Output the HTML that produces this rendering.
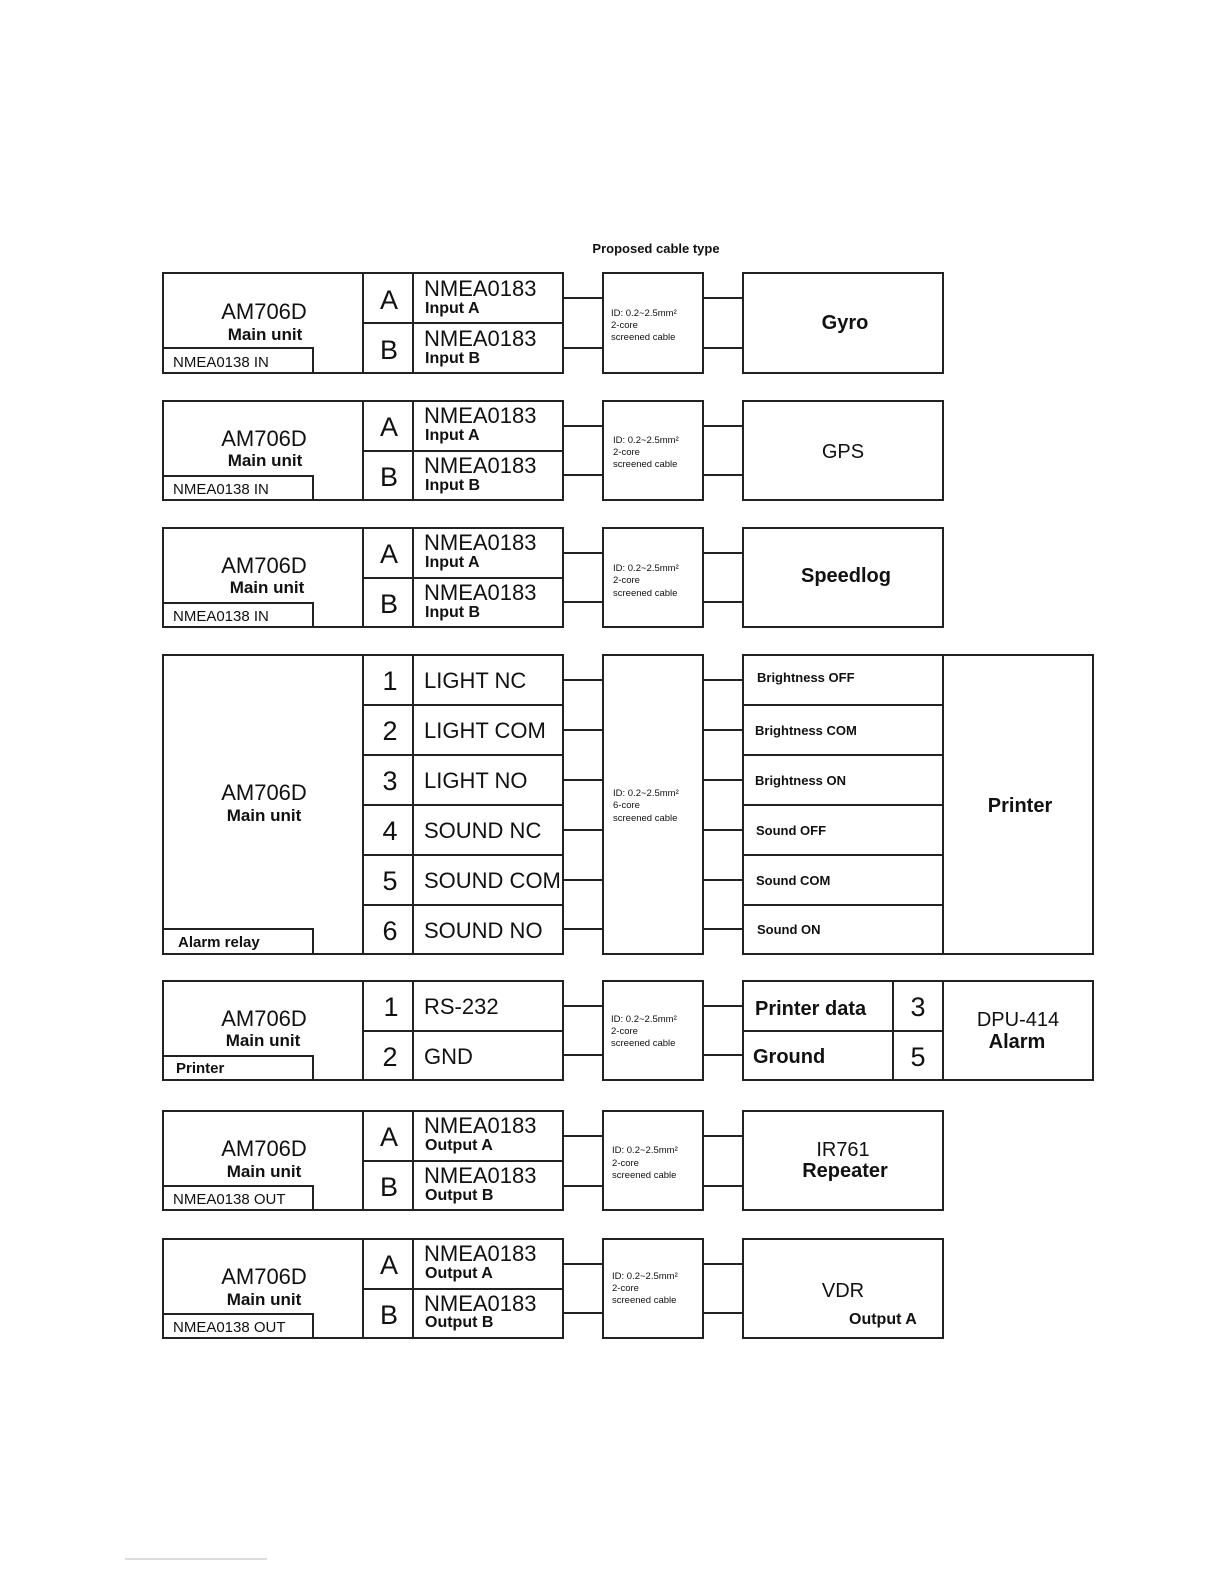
<!DOCTYPE html>
<html><head><meta charset="utf-8"><style>
html,body{margin:0;padding:0;background:#fff;}
svg{display:block;}
text{font-family:"Liberation Sans",sans-serif;fill:#111;}
.r{fill:none;stroke:#222;stroke-width:2;}
.l{stroke:#222;stroke-width:2;}
.am{font-size:22px;text-anchor:middle;}
.mu{font-size:17px;font-weight:bold;text-anchor:middle;}
.sub{font-size:15px;}
.let{font-size:27px;text-anchor:middle;}
.nm{font-size:22px;}
.io{font-size:16px;font-weight:bold;}
.cb{font-size:9.5px;}
.dev{font-size:20px;text-anchor:middle;}
.sm{font-size:13px;font-weight:bold;}
</style></head><body>
<svg width="1224" height="1584" viewBox="0 0 1224 1584" xmlns="http://www.w3.org/2000/svg">
<text x="656" y="253" style="font-size:13px;font-weight:bold;text-anchor:middle">Proposed cable type</text>

<!-- Block 1: Gyro y0=273 -->
<g transform="translate(0,273)">
<rect class="r" x="163" y="0" width="200" height="100"/><rect class="r" x="163" y="75" width="150" height="25"/>
<rect class="r" x="363" y="0" width="50" height="50"/><rect class="r" x="363" y="50" width="50" height="50"/>
<rect class="r" x="413" y="0" width="150" height="50"/><rect class="r" x="413" y="50" width="150" height="50"/>
<line class="l" x1="563" y1="25" x2="603" y2="25"/><line class="l" x1="563" y1="75" x2="603" y2="75"/>
<rect class="r" x="603" y="0" width="100" height="100"/>
<line class="l" x1="703" y1="25" x2="743" y2="25"/><line class="l" x1="703" y1="75" x2="743" y2="75"/>
<rect class="r" x="743" y="0" width="200" height="100"/>
<text class="am" x="264" y="46">AM706D</text><text class="mu" x="265" y="67">Main unit</text>
<text class="sub" x="173" y="94">NMEA0138 IN</text>
<text class="let" x="389" y="36">A</text><text class="let" x="389" y="86">B</text>
<text class="nm" x="424" y="23">NMEA0183</text><text class="io" x="425" y="40">Input A</text>
<text class="nm" x="424" y="73">NMEA0183</text><text class="io" x="425" y="90">Input B</text>
<text class="cb" x="611" y="43">ID: 0.2~2.5mm²</text><text class="cb" x="611" y="55">2-core</text><text class="cb" x="611" y="67">screened cable</text>
<text class="dev" x="845" y="56" style="font-weight:bold">Gyro</text>
</g>

<!-- Block 2: GPS y0=401 -->
<g transform="translate(0,401)">
<rect class="r" x="163" y="0" width="200" height="99"/><rect class="r" x="163" y="75" width="150" height="24"/>
<rect class="r" x="363" y="0" width="50" height="50"/><rect class="r" x="363" y="50" width="50" height="49"/>
<rect class="r" x="413" y="0" width="150" height="50"/><rect class="r" x="413" y="50" width="150" height="49"/>
<line class="l" x1="563" y1="25" x2="603" y2="25"/><line class="l" x1="563" y1="74" x2="603" y2="74"/>
<rect class="r" x="603" y="0" width="100" height="99"/>
<line class="l" x1="703" y1="25" x2="743" y2="25"/><line class="l" x1="703" y1="74" x2="743" y2="74"/>
<rect class="r" x="743" y="0" width="200" height="99"/>
<text class="am" x="264" y="45">AM706D</text><text class="mu" x="265" y="65">Main unit</text>
<text class="sub" x="173" y="93">NMEA0138 IN</text>
<text class="let" x="389" y="35">A</text><text class="let" x="389" y="85">B</text>
<text class="nm" x="424" y="22">NMEA0183</text><text class="io" x="425" y="39">Input A</text>
<text class="nm" x="424" y="72">NMEA0183</text><text class="io" x="425" y="89">Input B</text>
<text class="cb" x="613" y="42">ID: 0.2~2.5mm²</text><text class="cb" x="613" y="54">2-core</text><text class="cb" x="613" y="66">screened cable</text>
<text class="dev" x="843" y="57">GPS</text>
</g>

<!-- Block 3: Speedlog y0=528 -->
<g transform="translate(0,528)">
<rect class="r" x="163" y="0" width="200" height="99"/><rect class="r" x="163" y="75" width="150" height="24"/>
<rect class="r" x="363" y="0" width="50" height="50"/><rect class="r" x="363" y="50" width="50" height="49"/>
<rect class="r" x="413" y="0" width="150" height="50"/><rect class="r" x="413" y="50" width="150" height="49"/>
<line class="l" x1="563" y1="25" x2="603" y2="25"/><line class="l" x1="563" y1="74" x2="603" y2="74"/>
<rect class="r" x="603" y="0" width="100" height="99"/>
<line class="l" x1="703" y1="25" x2="743" y2="25"/><line class="l" x1="703" y1="74" x2="743" y2="74"/>
<rect class="r" x="743" y="0" width="200" height="99"/>
<text class="am" x="264" y="45">AM706D</text><text class="mu" x="267" y="65">Main unit</text>
<text class="sub" x="173" y="93">NMEA0138 IN</text>
<text class="let" x="389" y="35">A</text><text class="let" x="389" y="85">B</text>
<text class="nm" x="424" y="22">NMEA0183</text><text class="io" x="425" y="39">Input A</text>
<text class="nm" x="424" y="72">NMEA0183</text><text class="io" x="425" y="89">Input B</text>
<text class="cb" x="613" y="43">ID: 0.2~2.5mm²</text><text class="cb" x="613" y="55">2-core</text><text class="cb" x="613" y="68">screened cable</text>
<text class="dev" x="846" y="54" style="font-weight:bold">Speedlog</text>
</g>

<!-- Block 4: Printer alarm relay y0=655 -->
<g transform="translate(0,655)">
<rect class="r" x="163" y="0" width="200" height="299"/><rect class="r" x="163" y="274" width="150" height="25"/>
<rect class="r" x="363" y="0" width="50" height="299"/><rect class="r" x="413" y="0" width="150" height="299"/>
<line class="l" x1="363" y1="50" x2="563" y2="50"/><line class="l" x1="363" y1="100" x2="563" y2="100"/>
<line class="l" x1="363" y1="150" x2="563" y2="150"/><line class="l" x1="363" y1="200" x2="563" y2="200"/>
<line class="l" x1="363" y1="250" x2="563" y2="250"/>
<line class="l" x1="563" y1="25" x2="603" y2="25"/><line class="l" x1="563" y1="75" x2="603" y2="75"/>
<line class="l" x1="563" y1="125" x2="603" y2="125"/><line class="l" x1="563" y1="175" x2="603" y2="175"/>
<line class="l" x1="563" y1="225" x2="603" y2="225"/><line class="l" x1="563" y1="274" x2="603" y2="274"/>
<rect class="r" x="603" y="0" width="100" height="299"/>
<line class="l" x1="703" y1="25" x2="743" y2="25"/><line class="l" x1="703" y1="75" x2="743" y2="75"/>
<line class="l" x1="703" y1="125" x2="743" y2="125"/><line class="l" x1="703" y1="175" x2="743" y2="175"/>
<line class="l" x1="703" y1="225" x2="743" y2="225"/><line class="l" x1="703" y1="274" x2="743" y2="274"/>
<rect class="r" x="743" y="0" width="200" height="299"/>
<line class="l" x1="743" y1="50" x2="943" y2="50"/><line class="l" x1="743" y1="100" x2="943" y2="100"/>
<line class="l" x1="743" y1="150" x2="943" y2="150"/><line class="l" x1="743" y1="200" x2="943" y2="200"/>
<line class="l" x1="743" y1="250" x2="943" y2="250"/>
<rect class="r" x="943" y="0" width="150" height="299"/>
<text class="am" x="264" y="145">AM706D</text><text class="mu" x="264" y="166">Main unit</text>
<text class="sub" x="178" y="292" style="font-weight:bold">Alarm relay</text>
<text class="let" x="390" y="35">1</text><text class="let" x="390" y="85">2</text><text class="let" x="390" y="135">3</text>
<text class="let" x="390" y="185">4</text><text class="let" x="390" y="235">5</text><text class="let" x="390" y="285">6</text>
<text class="nm" x="424" y="33">LIGHT NC</text><text class="nm" x="424" y="83">LIGHT COM</text><text class="nm" x="424" y="133">LIGHT NO</text>
<text class="nm" x="424" y="183">SOUND NC</text><text class="nm" x="424" y="233">SOUND COM</text><text class="nm" x="424" y="283">SOUND NO</text>
<text class="cb" x="613" y="141">ID: 0.2~2.5mm²</text><text class="cb" x="613" y="153">6-core</text><text class="cb" x="613" y="166">screened cable</text>
<text class="sm" x="757" y="27">Brightness  OFF</text><text class="sm" x="755" y="80">Brightness  COM</text>
<text class="sm" x="755" y="130">Brightness  ON</text><text class="sm" x="756" y="180">Sound  OFF</text>
<text class="sm" x="756" y="230">Sound COM</text><text class="sm" x="757" y="279">Sound ON</text>
<text class="dev" x="1020" y="157" style="font-weight:bold">Printer</text>
</g>

<!-- Block 5: DPU-414 y0=981 -->
<g transform="translate(0,981)">
<rect class="r" x="163" y="0" width="200" height="99"/><rect class="r" x="163" y="75" width="150" height="24"/>
<rect class="r" x="363" y="0" width="50" height="50"/><rect class="r" x="363" y="50" width="50" height="49"/>
<rect class="r" x="413" y="0" width="150" height="50"/><rect class="r" x="413" y="50" width="150" height="49"/>
<line class="l" x1="563" y1="25" x2="603" y2="25"/><line class="l" x1="563" y1="74" x2="603" y2="74"/>
<rect class="r" x="603" y="0" width="100" height="99"/>
<line class="l" x1="703" y1="25" x2="743" y2="25"/><line class="l" x1="703" y1="74" x2="743" y2="74"/>
<rect class="r" x="743" y="0" width="150" height="50"/><rect class="r" x="743" y="50" width="150" height="49"/>
<rect class="r" x="893" y="0" width="50" height="50"/><rect class="r" x="893" y="50" width="50" height="49"/>
<rect class="r" x="943" y="0" width="150" height="99"/>
<text class="am" x="264" y="45">AM706D</text><text class="mu" x="263" y="65">Main unit</text>
<text class="sub" x="176" y="92" style="font-weight:bold">Printer</text>
<text class="let" x="391" y="35">1</text><text class="let" x="390" y="85">2</text>
<text class="nm" x="424" y="33">RS-232</text><text class="nm" x="424" y="83">GND</text>
<text class="cb" x="611" y="41">ID: 0.2~2.5mm²</text><text class="cb" x="611" y="53">2-core</text><text class="cb" x="611" y="65">screened cable</text>
<text x="755" y="34" style="font-size:20px;font-weight:bold">Printer data</text>
<text x="753" y="82" style="font-size:20px;font-weight:bold">Ground</text>
<text class="let" x="918" y="35">3</text><text class="let" x="918" y="85">5</text>
<text class="dev" x="1018" y="45">DPU-414</text><text class="dev" x="1017" y="67" style="font-weight:bold">Alarm</text>
</g>

<!-- Block 6: IR761 y0=1111 -->
<g transform="translate(0,1111)">
<rect class="r" x="163" y="0" width="200" height="99"/><rect class="r" x="163" y="75" width="150" height="24"/>
<rect class="r" x="363" y="0" width="50" height="50"/><rect class="r" x="363" y="50" width="50" height="49"/>
<rect class="r" x="413" y="0" width="150" height="50"/><rect class="r" x="413" y="50" width="150" height="49"/>
<line class="l" x1="563" y1="25" x2="603" y2="25"/><line class="l" x1="563" y1="75" x2="603" y2="75"/>
<rect class="r" x="603" y="0" width="100" height="99"/>
<line class="l" x1="703" y1="25" x2="743" y2="25"/><line class="l" x1="703" y1="75" x2="743" y2="75"/>
<rect class="r" x="743" y="0" width="200" height="99"/>
<text class="am" x="264" y="45">AM706D</text><text class="mu" x="264" y="66">Main unit</text>
<text class="sub" x="173" y="93">NMEA0138 OUT</text>
<text class="let" x="389" y="35">A</text><text class="let" x="389" y="85">B</text>
<text class="nm" x="424" y="22">NMEA0183</text><text class="io" x="425" y="39">Output A</text>
<text class="nm" x="424" y="72">NMEA0183</text><text class="io" x="425" y="89">Output B</text>
<text class="cb" x="612" y="42">ID: 0.2~2.5mm²</text><text class="cb" x="612" y="55">2-core</text><text class="cb" x="612" y="67">screened cable</text>
<text class="dev" x="843" y="45">IR761</text><text class="dev" x="845" y="66" style="font-weight:bold">Repeater</text>
</g>

<!-- Block 7: VDR y0=1239 -->
<g transform="translate(0,1239)">
<rect class="r" x="163" y="0" width="200" height="99"/><rect class="r" x="163" y="75" width="150" height="24"/>
<rect class="r" x="363" y="0" width="50" height="50"/><rect class="r" x="363" y="50" width="50" height="49"/>
<rect class="r" x="413" y="0" width="150" height="50"/><rect class="r" x="413" y="50" width="150" height="49"/>
<line class="l" x1="563" y1="25" x2="603" y2="25"/><line class="l" x1="563" y1="74" x2="603" y2="74"/>
<rect class="r" x="603" y="0" width="100" height="99"/>
<line class="l" x1="703" y1="25" x2="743" y2="25"/><line class="l" x1="703" y1="74" x2="743" y2="74"/>
<rect class="r" x="743" y="0" width="200" height="99"/>
<text class="am" x="264" y="45">AM706D</text><text class="mu" x="264" y="66">Main unit</text>
<text class="sub" x="173" y="93">NMEA0138 OUT</text>
<text class="let" x="389" y="35">A</text><text class="let" x="389" y="85">B</text>
<text class="nm" x="424" y="22">NMEA0183</text><text class="io" x="425" y="39">Output A</text>
<text class="nm" x="424" y="72">NMEA0183</text><text class="io" x="425" y="88">Output B</text>
<text class="cb" x="612" y="40">ID: 0.2~2.5mm²</text><text class="cb" x="612" y="52">2-core</text><text class="cb" x="612" y="64">screened cable</text>
<text class="dev" x="843" y="58">VDR</text><text class="io" x="849" y="85">Output A</text>
</g>

<line x1="125" y1="1559" x2="267" y2="1559" stroke="#bbb" stroke-width="1"/>
</svg>
</body></html>
